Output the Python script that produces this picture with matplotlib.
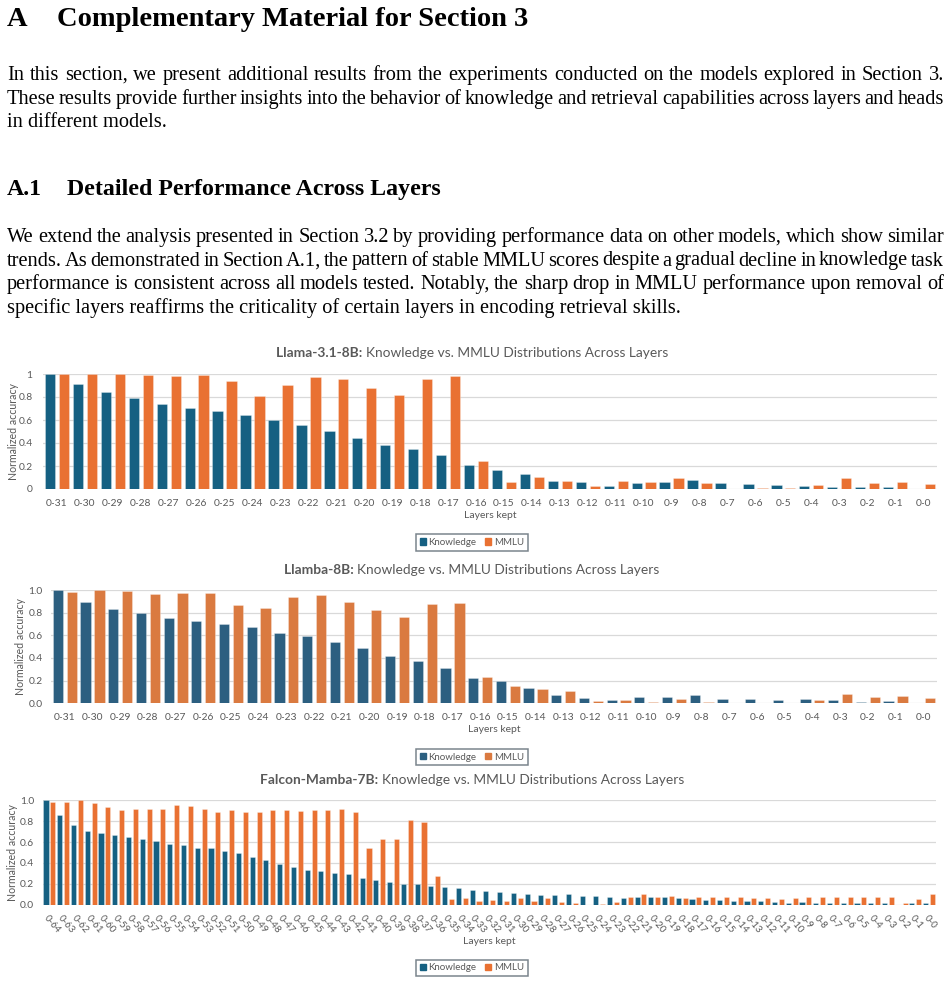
import numpy as np
import matplotlib
matplotlib.use('Agg')
import matplotlib.pyplot as plt
from matplotlib.patches import Rectangle

W, H = 952, 984

########################################################################  text

heading_a = ("A", "Complementary Material for Section 3")
para_1 = [
    "In this section, we present additional results from the experiments conducted on the models explored in Section 3.",
    "These results provide further insights into the behavior of knowledge and retrieval capabilities across layers and heads",
    "in different models.",
]
heading_a1 = ("A.1", "Detailed Performance Across Layers")
para_2 = [
    "We extend the analysis presented in Section 3.2 by providing performance data on other models, which show similar",
    "trends. As demonstrated in Section A.1, the pattern of stable MMLU scores despite a gradual decline in knowledge task",
    "performance is consistent across all models tested. Notably, the sharp drop in MMLU performance upon removal of",
    "specific layers reaffirms the criticality of certain layers in encoding retrieval skills.",
]

########################################################################  data

llama_layers = ["0-31", "0-30", "0-29", "0-28", "0-27", "0-26", "0-25", "0-24",
                "0-23", "0-22", "0-21", "0-20", "0-19", "0-18", "0-17", "0-16",
                "0-15", "0-14", "0-13", "0-12", "0-11", "0-10", "0-9", "0-8",
                "0-7", "0-6", "0-5", "0-4", "0-3", "0-2", "0-1", "0-0"]

llama_knowledge = [1.0, 0.916, 0.843, 0.788, 0.735, 0.706, 0.68, 0.64,
                   0.599, 0.558, 0.506, 0.445, 0.384, 0.346, 0.297, 0.21,
                   0.166, 0.131, 0.07, 0.058, 0.029, 0.049, 0.061, 0.076,
                   0.049, 0.044, 0.038, 0.026, 0.017, 0.017, 0.017, 0.0]
llama_mmlu = [1.0, 0.997, 0.997, 0.988, 0.98, 0.988, 0.942, 0.805,
              0.907, 0.974, 0.953, 0.881, 0.82, 0.959, 0.98, 0.244,
              0.061, 0.105, 0.07, 0.029, 0.07, 0.061, 0.093, 0.049,
              0.0, 0.009, 0.009, 0.035, 0.093, 0.055, 0.058, 0.044]

llamba_knowledge = [1.0, 0.891, 0.832, 0.794, 0.756, 0.724, 0.697, 0.671,
                    0.621, 0.591, 0.544, 0.485, 0.421, 0.374, 0.309, 0.221,
                    0.194, 0.135, 0.071, 0.044, 0.032, 0.053, 0.053, 0.076,
                    0.038, 0.035, 0.026, 0.035, 0.029, 0.012, 0.021, 0.0]
llamba_mmlu = [0.982, 1.0, 0.988, 0.968, 0.976, 0.976, 0.868, 0.841,
               0.941, 0.953, 0.891, 0.821, 0.765, 0.876, 0.888, 0.229,
               0.153, 0.129, 0.106, 0.024, 0.029, 0.012, 0.041, 0.009,
               0.0, 0.0, 0.0, 0.026, 0.079, 0.059, 0.068, 0.047]

falcon_layers = ["0-64", "0-63", "0-62", "0-61", "0-60", "0-59", "0-58", "0-57",
                 "0-56", "0-55", "0-54", "0-53", "0-52", "0-51", "0-50", "0-49",
                 "0-48", "0-47", "0-46", "0-45", "0-44", "0-43", "0-42", "0-41",
                 "0-40", "0-39", "0-38", "0-37", "0-36", "0-35", "0-34", "0-33",
                 "0-32", "0-31", "0-30", "0-29", "0-28", "0-27", "0-26", "0-25",
                 "0-24", "0-23", "0-22", "0-21", "0-20", "0-19", "0-18", "0-17",
                 "0-16", "0-15", "0-14", "0-13", "0-12", "0-11", "0-10", "0-9",
                 "0-8", "0-7", "0-6", "0-5", "0-4", "0-3", "0-2", "0-1", "0-0"]

falcon_knowledge = [1.0, 0.856, 0.76, 0.709, 0.687, 0.671, 0.649, 0.626,
                    0.607, 0.585, 0.569, 0.54, 0.54, 0.518, 0.495, 0.457,
                    0.425, 0.393, 0.361, 0.332, 0.32, 0.304, 0.291, 0.252,
                    0.236, 0.214, 0.201, 0.195, 0.179, 0.166, 0.157, 0.141,
                    0.128, 0.118, 0.112, 0.105, 0.096, 0.096, 0.105, 0.083,
                    0.083, 0.077, 0.061, 0.077, 0.07, 0.07, 0.064, 0.054,
                    0.048, 0.048, 0.038, 0.032, 0.032, 0.026, 0.016, 0.026,
                    0.016, 0.016, 0.016, 0.013, 0.013, 0.013, 0.0, 0.013, 0.013]
falcon_mmlu = [0.987, 0.981, 1.0, 0.971, 0.936, 0.904, 0.914, 0.92,
               0.92, 0.958, 0.942, 0.914, 0.891, 0.904, 0.885, 0.885,
               0.904, 0.904, 0.898, 0.904, 0.906, 0.914, 0.891, 0.54,
               0.629, 0.629, 0.812, 0.796, 0.275, 0.054, 0.064, 0.038,
               0.045, 0.032, 0.067, 0.032, 0.067, 0.022, 0.013, 0.0,
               0.01, 0.022, 0.077, 0.099, 0.07, 0.083, 0.064, 0.07,
               0.07, 0.07, 0.07, 0.061, 0.061, 0.054, 0.061, 0.07,
               0.07, 0.07, 0.07, 0.07, 0.07, 0.07, 0.016, 0.054, 0.105]

########################################################################  style

SERIF = 'Liberation Serif'
SANS = 'Lato'
GREY = '#595959'
K_BLUE, M_ORANGE = '#156082', '#E97132'
K_BLUE2, M_ORANGE2 = '#2C5F80', '#DA7A40'

fig = plt.figure(figsize=(W / 100, H / 100), dpi=100)
renderer = fig.canvas.get_renderer()


def fx(x):
    return x / W


def fy(y):
    return 1 - y / H


def width_of(t):
    return t.get_window_extent(renderer=renderer).width


def put(x, y, s, **kw):
    return fig.text(fx(x), fy(y), s, **kw)


def justified(lines, x0, x1, y0, dy, size):
    for i, line in enumerate(lines):
        y = y0 + i * dy
        if i == len(lines) - 1:
            put(x0, y, line, family=SERIF, fontsize=size, va='baseline')
            continue
        words = line.split()
        texts = [put(x0, y, w, family=SERIF, fontsize=size, va='baseline') for w in words]
        widths = [width_of(t) for t in texts]
        gap = (x1 - x0 - sum(widths)) / (len(words) - 1)
        x = x0
        for t, wd in zip(texts, widths):
            t.set_x(fx(x))
            x += wd + gap


# headings and paragraphs
put(7, 26, heading_a[0], family=SERIF, fontsize=20.5, weight='bold', va='baseline')
put(57, 26, heading_a[1], family=SERIF, fontsize=20.5, weight='bold', va='baseline')
justified(para_1, 7, 944, 80, 23.7, 14.7)
put(7, 195, heading_a1[0], family=SERIF, fontsize=17.2, weight='bold', va='baseline')
put(67, 195, heading_a1[1], family=SERIF, fontsize=17.2, weight='bold', va='baseline')
justified(para_2, 7, 944, 242, 23.5, 14.7)


def chart(left, top, right, bottom, layers, know, mmlu, name, kc, mc,
          fmt, title_y, xlab_y, leg_y, ylab_x, ypad, rotate=False):
    ax = fig.add_axes([fx(left), fy(bottom), (right - left) / W, (bottom - top) / H])
    x = np.arange(len(layers))
    ax.bar(x - 0.25, know, width=0.37, color=kc, edgecolor=(1, 1, 1, 0.5), linewidth=0.4, zorder=3)
    ax.bar(x + 0.25, mmlu, width=0.37, color=mc, edgecolor=(1, 1, 1, 0.5), linewidth=0.4, zorder=3)
    ax.set_xlim(-0.5, len(layers) - 0.5)
    ax.set_ylim(0, 1)
    ticks = [0, 0.2, 0.4, 0.6, 0.8, 1.0]
    ax.set_yticks(ticks)
    ax.set_yticklabels([fmt(v) for v in ticks], family=SANS, fontsize=7.4, color=GREY)
    ax.yaxis.grid(True, color='#d9d9d9', linewidth=0.9, zorder=0)
    ax.set_axisbelow(True)
    for s in ax.spines.values():
        s.set_visible(False)
    ax.tick_params(axis='y', length=0, pad=ypad)
    ax.set_xticks(x)
    if rotate:
        ax.set_xticklabels(layers, family=SANS, fontsize=7, color=GREY,
                           rotation=-50, ha='left', va='top', rotation_mode='anchor')
        ax.tick_params(axis='x', length=0, pad=6)
    else:
        ax.set_xticklabels(layers, family=SANS, fontsize=7.4, color=GREY)
        ax.tick_params(axis='x', length=0, pad=7)

    cx = (left + right) / 2
    # title: bold model name + regular rest, centred as one line
    tb = put(0, title_y, name + ": ", family=SANS, fontsize=9.9, weight='bold', color=GREY, va='center')
    tr = put(0, title_y, "Knowledge vs. MMLU Distributions Across Layers",
             family=SANS, fontsize=9.9, color=GREY, va='center')
    wb, wr = width_of(tb), width_of(tr)
    x0 = 472 - (wb + wr) / 2
    tb.set_x(fx(x0))
    tr.set_x(fx(x0 + wb))

    put(cx, xlab_y, "Layers kept", family=SANS, fontsize=7.5, color=GREY, ha='center', va='center')
    put(ylab_x, (top + bottom) / 2, "Normalized accuracy", family=SANS, fontsize=7.6,
        color=GREY, rotation=90, ha='center', va='center')

    handles = [Rectangle((0, 0), 1, 1, color=kc), Rectangle((0, 0), 1, 1, color=mc)]
    leg = fig.legend(handles, ["Knowledge", "MMLU"], loc='center', ncol=2,
                     bbox_to_anchor=(fx(472), fy(leg_y)), frameon=True, fancybox=False,
                     prop={'family': SANS, 'size': 7}, handlelength=0.6, handleheight=0.6,
                     handletextpad=0.3, columnspacing=0.9, borderpad=0.4)
    leg.get_frame().set_edgecolor('#5a6670')
    leg.get_frame().set_linewidth(1.1)
    for t in leg.get_texts():
        t.set_color(GREY)
    return ax


chart(43, 374, 937, 489, llama_layers, llama_knowledge, llama_mmlu, "Llama-3.1-8B",
      K_BLUE, M_ORANGE, lambda v: "%g" % v, 353, 516, 542.5, 14, 7.5)
chart(51, 590, 937, 703.3, llama_layers, llamba_knowledge, llamba_mmlu, "Llamba-8B",
      K_BLUE2, M_ORANGE2, lambda v: "%.1f" % v, 569.5, 730, 757, 21, 6)
chart(42.6, 800.3, 936, 904.7, falcon_layers, falcon_knowledge, falcon_mmlu, "Falcon-Mamba-7B",
      K_BLUE, M_ORANGE, lambda v: "%.1f" % v, 779.5, 942, 968, 13, 6, rotate=True)

fig.savefig('out.png', dpi=100)
